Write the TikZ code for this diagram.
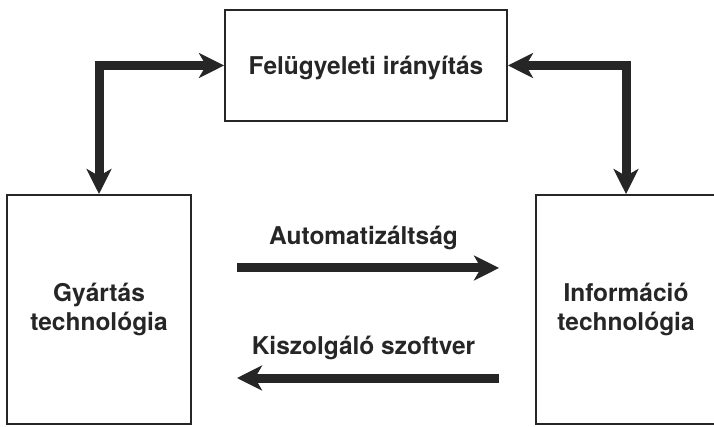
\documentclass[tikz,border=0pt]{standalone}
\usepackage{fontspec}
\setmainfont{TeX Gyre Heros}
\usepackage{tikz}
\usetikzlibrary{arrows.meta}
\definecolor{ink}{HTML}{262626}
\tikzset{
    box/.style={draw=ink, line width=1.6pt, align=center, text=ink,
        font=\bfseries\fontsize{20.9}{25.5}\selectfont},
    fat/.style={draw=ink, line width=0.27cm},
    arrowtext/.style={inner sep=0pt, text=ink,
        font=\bfseries\fontsize{20.9}{25.5}\selectfont}
}

\begin{document}
\begin{tikzpicture}[x=0.03cm, y=-0.03cm,
    >={Stealth[length=0.75cm, width=0.74cm, inset=0.21cm]}]
    % 画布范围
    \clip (0,0) rectangle (714,427);

    % 三个方框
    \node[box, text depth=0pt, minimum width=8.46cm, minimum height=3.33cm] (felugy) at (366,65.5) {Felügyeleti irányítás};
    \node[box, minimum width=5.52cm, minimum height=6.87cm] (gyartas) at (99,309.5) {Gyártás\\technológia};
    \node[box, minimum width=5.4cm, minimum height=6.87cm] (info) at (626,309.5) {Információ\\technológia};

    % 上方两条双向箭头
    \draw[fat, <->] (gyartas.north) |- (felugy.west);
    \draw[fat, <->] (info.north) |- (felugy.east);

    % 中间两条水平箭头
    \draw[fat, ->, shorten <=1.35cm, shorten >=1.08cm] ([yshift=1.245cm]gyartas.east) -- ([yshift=1.245cm]info.west)
        node[arrowtext, midway, above=0.42cm] (auto) {Automatizáltság};
    \draw[fat, ->, shorten <=1.08cm, shorten >=1.35cm] ([yshift=-2.055cm]info.west) -- ([yshift=-2.055cm]gyartas.east)
        node[arrowtext, midway, above=0.42cm] (kiszolg) {Kiszolgáló szoftver};
\end{tikzpicture}
\end{document}
